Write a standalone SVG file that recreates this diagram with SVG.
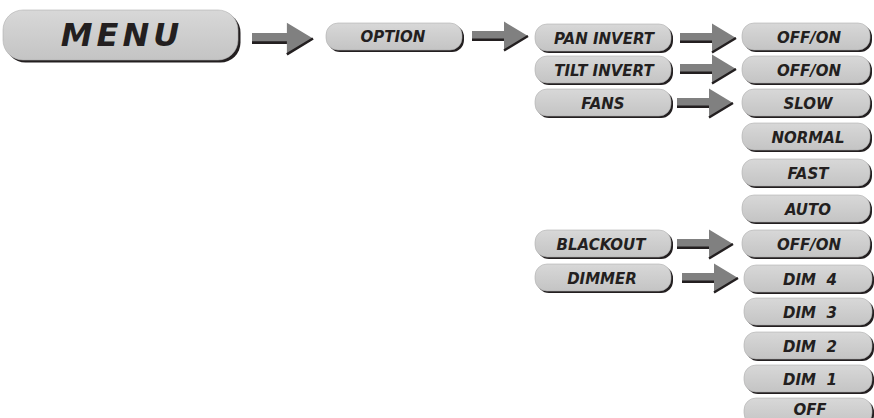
<svg xmlns="http://www.w3.org/2000/svg" xmlns:xlink="http://www.w3.org/1999/xlink" width="874" height="418" viewBox="0 0 874 418">
<style>
.sh{fill:#231f20}
.bx{fill:url(#g);stroke:#b0b0b0;stroke-width:0.6}
.t{font-family:"DejaVu Sans",Verdana,sans-serif;font-weight:bold;font-style:italic;font-size:15px;fill:#231f20;text-anchor:middle}
.big{font-size:32px;letter-spacing:4px}
.ag{fill:#808080}
.ad{fill:none;stroke:#231f20;stroke-width:2.4}
</style>
<defs>
<linearGradient id="g" x1="0" y1="0" x2="0" y2="1">
<stop offset="0" stop-color="#d8d8d8"/>
<stop offset="1" stop-color="#c4c4c4"/>
</linearGradient>
<g id="arr">
<polygon class="ag" points="0,-5 32,-5 32,-14.5 56,0 32,14.5 32,5 0,5"/>
<path class="ad" d="M0,3.8 H32 M56,0 L32,14.5"/>
</g>
</defs>
<rect width="874" height="418" fill="#ffffff"/>

<g id="connectors">
<use xlink:href="#arr" transform="translate(252,38.5) scale(1.09)"/>
<use xlink:href="#arr" transform="translate(472,36)"/>
<use xlink:href="#arr" transform="translate(680,38)"/>
<use xlink:href="#arr" transform="translate(680,69)"/>
<use xlink:href="#arr" transform="translate(677,103)"/>
<use xlink:href="#arr" transform="translate(677,244)"/>
<use xlink:href="#arr" transform="translate(682,278)"/>
</g>

<g id="menu"><rect class="sh" x="5.5" y="12.5" width="235" height="50" rx="20"/><rect class="bx" x="3" y="10" width="235" height="50" rx="20"/><text class="t big" x="122" y="46">MENU</text></g>
<g id="option"><rect class="sh" x="328" y="25" width="136" height="27" rx="12"/><rect class="bx" x="326" y="23" width="136" height="27" rx="12"/><text class="t" x="393" y="42">OPTION</text></g>

<g id="pan-invert"><rect class="sh" x="537" y="26" width="136" height="27" rx="12"/><rect class="bx" x="535" y="24" width="136" height="27" rx="12"/><text class="t" x="604" y="44">PAN INVERT</text></g>
<g id="tilt-invert"><rect class="sh" x="537" y="58" width="136" height="27" rx="12"/><rect class="bx" x="535" y="56" width="136" height="27" rx="12"/><text class="t" x="604" y="76">TILT INVERT</text></g>
<g id="fans"><rect class="sh" x="537" y="91" width="136" height="27" rx="12"/><rect class="bx" x="535" y="89" width="136" height="27" rx="12"/><text class="t" x="603" y="109">FANS</text></g>
<g id="blackout"><rect class="sh" x="537" y="232" width="136" height="27" rx="12"/><rect class="bx" x="535" y="230" width="136" height="27" rx="12"/><text class="t" x="601" y="250">BLACKOUT</text></g>
<g id="dimmer"><rect class="sh" x="537" y="266" width="136" height="27" rx="12"/><rect class="bx" x="535" y="264" width="136" height="27" rx="12"/><text class="t" x="602" y="284">DIMMER</text></g>

<g id="pan-offon"><rect class="sh" x="744" y="25" width="128" height="27" rx="12"/><rect class="bx" x="742" y="23" width="128" height="27" rx="12"/><text class="t" x="809" y="43">OFF/ON</text></g>
<g id="tilt-offon"><rect class="sh" x="744" y="58" width="128" height="27" rx="12"/><rect class="bx" x="742" y="56" width="128" height="27" rx="12"/><text class="t" x="809" y="76">OFF/ON</text></g>
<g id="slow"><rect class="sh" x="744" y="91" width="128" height="27" rx="12"/><rect class="bx" x="742" y="89" width="128" height="27" rx="12"/><text class="t" x="808" y="109">SLOW</text></g>
<g id="normal"><rect class="sh" x="744" y="125" width="128" height="27" rx="12"/><rect class="bx" x="742" y="123" width="128" height="27" rx="12"/><text class="t" x="808" y="143">NORMAL</text></g>
<g id="fast"><rect class="sh" x="744" y="161" width="128" height="27" rx="12"/><rect class="bx" x="742" y="159" width="128" height="27" rx="12"/><text class="t" x="808" y="179">FAST</text></g>
<g id="auto"><rect class="sh" x="744" y="197" width="128" height="27" rx="12"/><rect class="bx" x="742" y="195" width="128" height="27" rx="12"/><text class="t" x="808" y="215">AUTO</text></g>
<g id="blackout-offon"><rect class="sh" x="744" y="232" width="128" height="27" rx="12"/><rect class="bx" x="742" y="230" width="128" height="27" rx="12"/><text class="t" x="809" y="250">OFF/ON</text></g>
<g id="dim4"><rect class="sh" x="746" y="267" width="128" height="27" rx="12"/><rect class="bx" x="744" y="265" width="128" height="27" rx="12"/><text class="t" x="810" y="285" xml:space="preserve">DIM  4</text></g>
<g id="dim3"><rect class="sh" x="746" y="300" width="128" height="27" rx="12"/><rect class="bx" x="744" y="298" width="128" height="27" rx="12"/><text class="t" x="810" y="318" xml:space="preserve">DIM  3</text></g>
<g id="dim2"><rect class="sh" x="746" y="334" width="128" height="27" rx="12"/><rect class="bx" x="744" y="332" width="128" height="27" rx="12"/><text class="t" x="810" y="352" xml:space="preserve">DIM  2</text></g>
<g id="dim1"><rect class="sh" x="746" y="367" width="128" height="27" rx="12"/><rect class="bx" x="744" y="365" width="128" height="27" rx="12"/><text class="t" x="810" y="385" xml:space="preserve">DIM  1</text></g>
<g id="off"><rect class="sh" x="746" y="400" width="128" height="27" rx="12"/><rect class="bx" x="744" y="398" width="128" height="27" rx="12"/><text class="t" x="810" y="415">OFF</text></g>
</svg>
